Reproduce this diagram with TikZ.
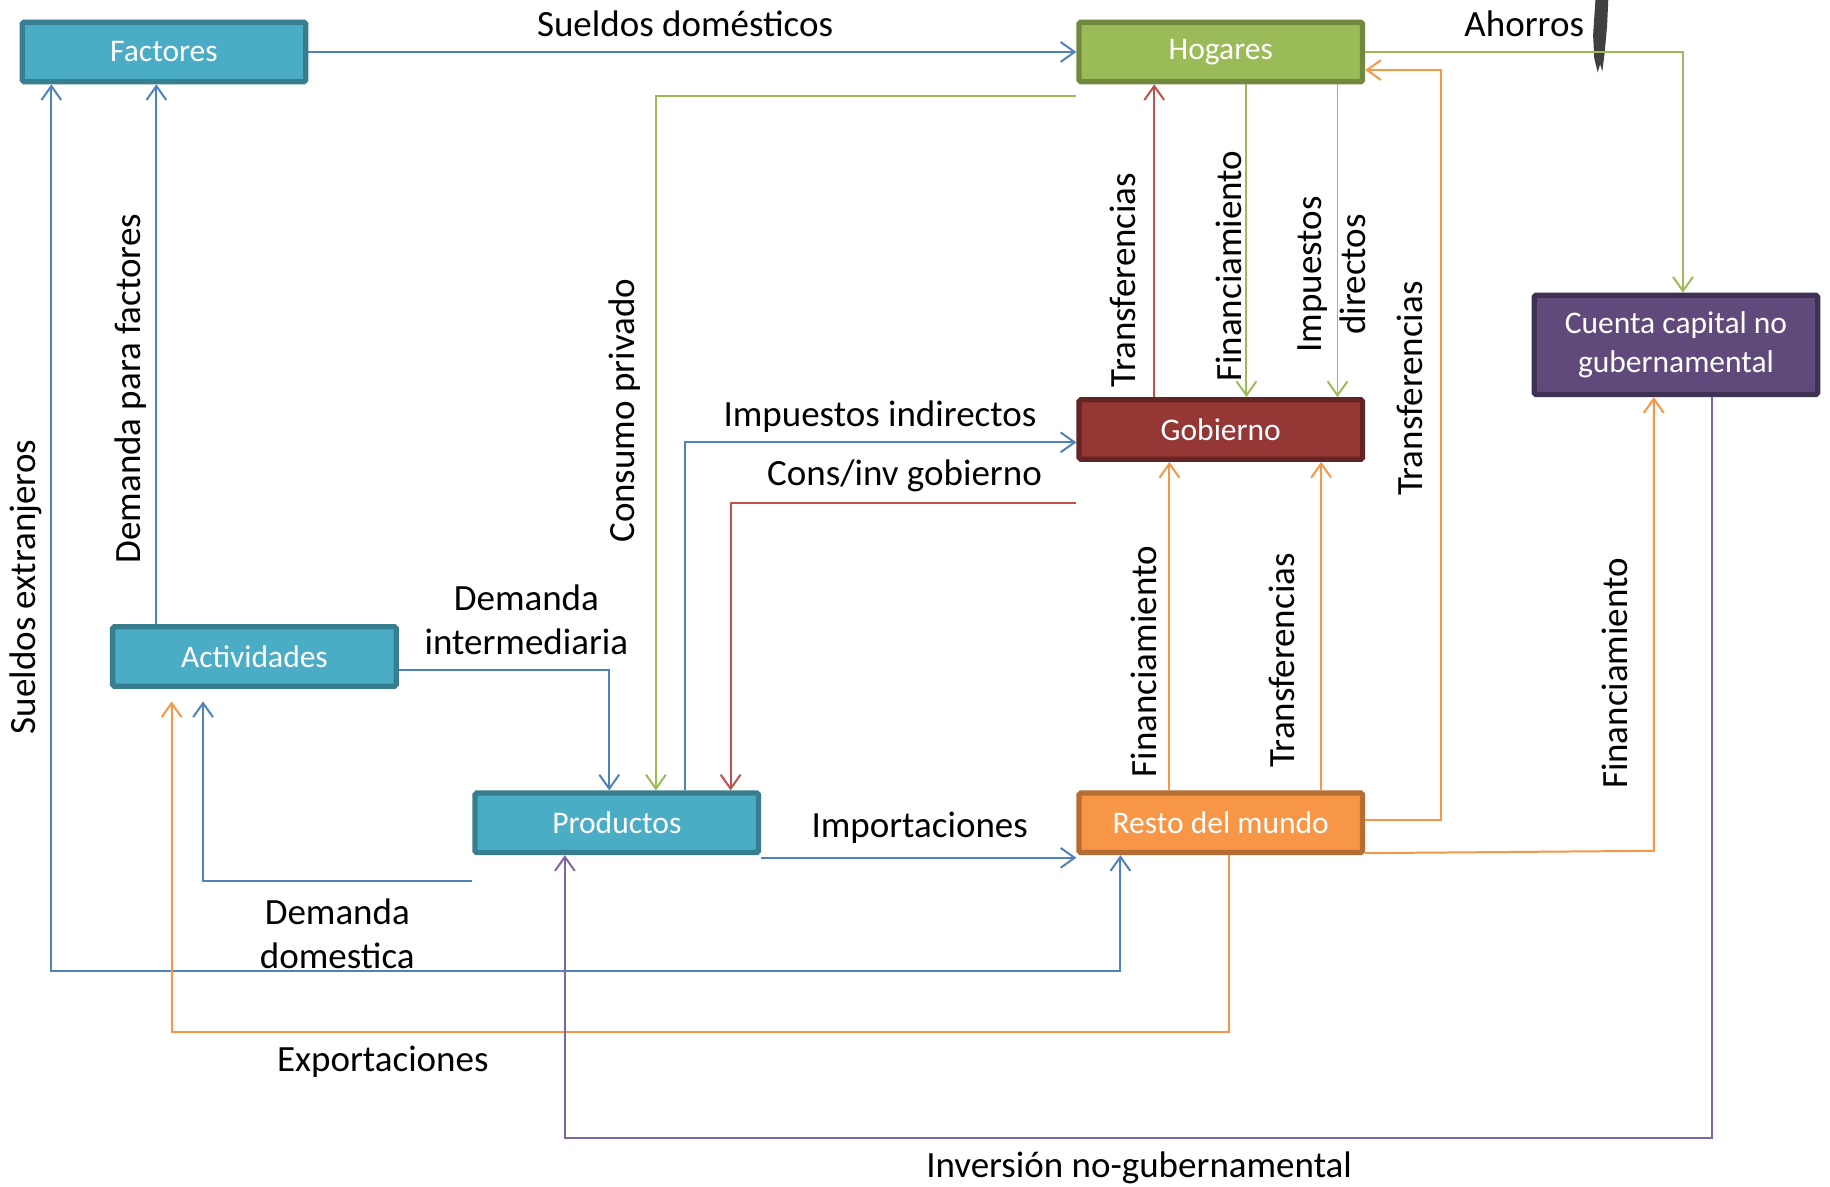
\documentclass[tikz,border=0pt]{standalone}
\usepackage{fontspec}
\setmainfont{Carlito}
\usetikzlibrary{arrows.meta}
\definecolor{aquaF}{HTML}{4BACC6}
\definecolor{aquaD}{HTML}{367E90}
\definecolor{greenF}{HTML}{9BBB59}
\definecolor{greenD}{HTML}{71893F}
\definecolor{redF}{HTML}{953735}
\definecolor{redD}{HTML}{632523}
\definecolor{orangeF}{HTML}{F79646}
\definecolor{orangeD}{HTML}{B66D31}
\definecolor{purpF}{HTML}{604A7B}
\definecolor{purpD}{HTML}{3F3151}
\definecolor{cblue}{HTML}{4F81BD}
\definecolor{cgreen}{HTML}{9BBB59}
\definecolor{cred}{HTML}{C0504D}
\definecolor{corange}{HTML}{F79646}
\definecolor{cpurple}{HTML}{8064A2}
\definecolor{brush}{HTML}{404040}
\tikzset{
  acct/.style={draw, line width=4.5pt, rounded corners=1.5pt, minimum width=243pt, minimum height=51pt,
    text=white, font=\fontsize{27}{33}\selectfont, align=center, inner sep=2pt},
  aqua/.style={acct, fill=aquaF, draw=aquaD},
  arr/.style={line width=1.7pt, -{Straight Barb[length=12pt,width=17pt]}},
  arrb/.style={line width=1.7pt, {Straight Barb[length=12pt,width=17pt]}-{Straight Barb[length=12pt,width=17pt]}},
  lbl/.style={font=\fontsize{31.7}{38}\selectfont, align=center, inner sep=0pt, text=black},
  vlbl/.style={lbl, rotate=90},
}
\begin{document}
\begin{tikzpicture}[x=1pt,y=-1pt]
\useasboundingbox (0,0) rectangle (1568,1017);
\fill[white] (0,0) rectangle (1568,1017);
% brush stroke
\fill[brush] (1367,0) -- (1378,0) -- (1377,22) -- (1375,44) -- (1373,61) -- (1371,55) -- (1369,62) -- (1366,50) -- (1365,30) -- cycle;
% nodes
\node[aqua] (fac) at (140.5,44.5) {Factores};
\node[acct, fill=greenF, draw=greenD] (hog) at (1046,44.5) {Hogares};
\node[acct, fill=purpF, draw=purpD, minimum height=85pt] (cta) at (1436,295.5) {Cuenta capital no\\gubernamental};
\node[acct, fill=redF, draw=redD] (gob) at (1046,368) {Gobierno};
\node[aqua] (act) at (218,562.5) {Actividades};
\node[aqua] (prod) at (528.5,705) {Productos};
\node[acct, fill=orangeF, draw=orangeD] (rdm) at (1046,705) {Resto del mundo};
% free coordinates
\coordinate (cp0) at (hog.west |- 0,82);
\coordinate (ci0) at (gob.west |- 0,431);
\coordinate (dd0) at (prod.west |- 0,755);
\coordinate (ex1) at (147,601);
\coordinate (dd1) at (174,601);
% connectors
\draw[arr, cblue] (fac.east) -- (hog.west);
\draw[arr, cgreen] (hog.east) -| (1442,0 |- cta.north);
\draw[arr, cgreen] (cp0) -| (562,0 |- prod.north);
\draw[arr, cred] (989,0 |- gob.north) -- (989,0 |- hog.south);
\draw[arr, cgreen] (1068,0 |- hog.south) -- (1068,0 |- gob.north);
\draw[arr, cgreen] (1146,0 |- hog.south) -- (1146,0 |- gob.north);
\draw[arr, corange] (rdm.east |- 0,703) -- (1235,703) -- (1235,60) -- (hog.east |- 0,60);
\draw[arr, cblue] (587,0 |- prod.north) |- (gob.west |- 0,379);
\draw[arr, cred] (ci0) -| (626,0 |- prod.north);
\draw[arr, cblue] (act.east |- 0,574) -| (522,0 |- prod.north);
\draw[arr, cblue] (134,0 |- act.north) -- (134,0 |- fac.south);
\draw[arr, cblue] (dd0) -| (dd1);
\draw[arrb, cblue] (960,0 |- rdm.south) -- (960,832) -- (44,832) -- (44,0 |- fac.south);
\draw[arr, cblue] (prod.east |- 0,735) -- (rdm.west |- 0,735);
\draw[arr, corange] (1053,0 |- rdm.south) -- (1053,884) -- (147,884) -- (ex1);
\draw[arr, corange] (1002,0 |- rdm.north) -- (1002,0 |- gob.south);
\draw[arr, corange] (1132,0 |- rdm.north) -- (1132,0 |- gob.south);
\draw[arr, corange] (rdm.east |- 0,731) -- (1417,729) -- (1417,0 |- cta.south);
\draw[arr, cpurple] (1467,0 |- cta.south) -- (1467,975) -- (484,975) -- (484,0 |- prod.south);
% labels
\node[lbl] (l1) at (587,20) {Sueldos domésticos};
\node[lbl] (l2) at (1306,20) {Ahorros};
\node[lbl] (l3) at (754,357) {Impuestos indirectos};
\node[lbl] (l4) at (775,408) {Cons/inv gobierno};
\node[lbl] (l5) at (451,531) {Demanda\\intermediaria};
\node[lbl] (l6) at (289,800) {Demanda\\domestica};
\node[lbl] (l7) at (788,709) {Importaciones};
\node[lbl] (l8) at (328,910) {Exportaciones};
\node[lbl] (l9) at (976,1001) {Inversión no-gubernamental};
\node[vlbl] (v1) at (535,352) {Consumo privado};
\node[vlbl] (v2) at (962,240) {Transferencias};
\node[vlbl] (v3) at (1053,228) {Financiamiento};
\node[vlbl] (v4) at (1141,235) {Impuestos\\directos};
\node[vlbl] (v5) at (1208,333) {Transferencias};
\node[vlbl] (v6) at (112,333) {Demanda para factores};
\node[vlbl] (v7) at (22,503) {Sueldos extranjeros};
\node[vlbl] (v8) at (980,567) {Financiamiento};
\node[vlbl] (v9) at (1098,566) {Transferencias};
\node[vlbl] (v10) at (1384,577) {Financiamiento};
\end{tikzpicture}
\end{document}
